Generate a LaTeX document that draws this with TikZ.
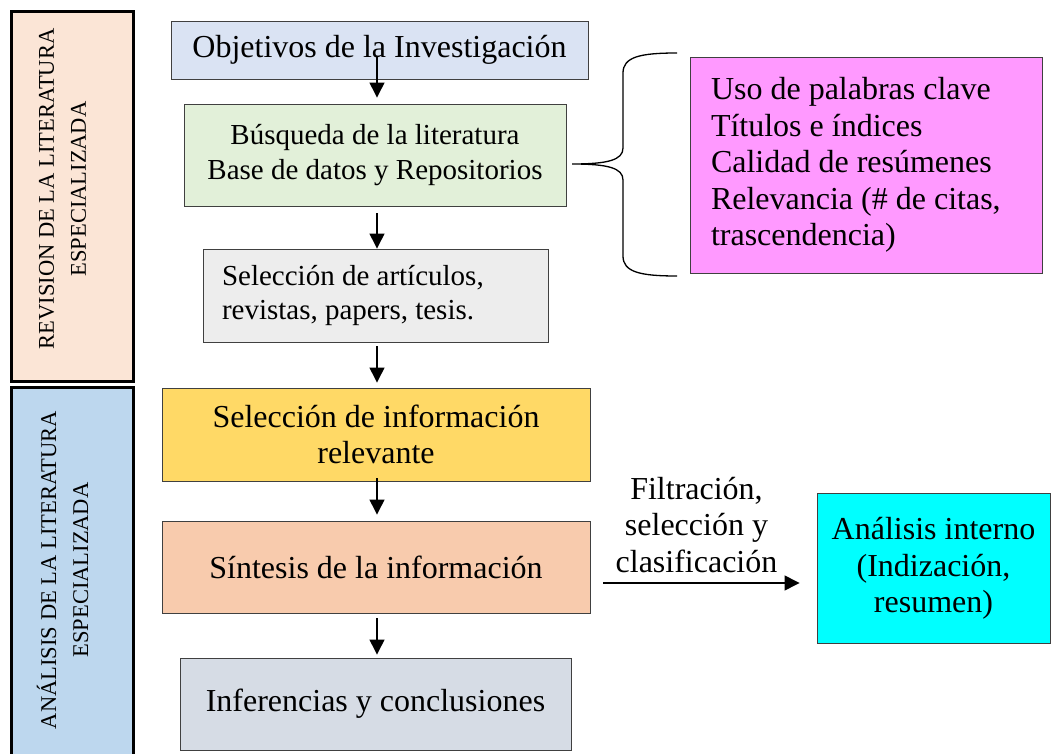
\documentclass[tikz,border=0pt]{standalone}
\usepackage{fontspec}
\setmainfont{Liberation Serif}
\usetikzlibrary{calc}
\usetikzlibrary{arrows.meta}
\definecolor{objblue}{HTML}{DAE3F3}
\definecolor{busgreen}{HTML}{E2F0D9}
\definecolor{artgray}{HTML}{EDEDED}
\definecolor{relgold}{HTML}{FFD966}
\definecolor{sinpeach}{HTML}{F8CBAD}
\definecolor{infslate}{HTML}{D6DCE5}
\definecolor{critpink}{HTML}{FF99FF}
\definecolor{anacyan}{HTML}{00FFFF}
\definecolor{revband}{HTML}{FBE5D6}
\definecolor{anaband}{HTML}{BDD7EE}
\newcommand*{\colx   }{377}
\newcommand*{\bigtxt }{\fontsize{32}{36.5}\selectfont}
\newcommand*{\midtxt }{\fontsize{29}{34.5}\selectfont}
\newcommand*{\sidetxt}{\fontsize{22.5}{32}\selectfont}

\begin{document}
\begin{tikzpicture}[x=1pt, y=-1pt,
        box/.style={rectangle, draw=black!75, line width=0.9pt, inner sep=0pt, align=center, font=\bigtxt},
        band/.style={rectangle, draw=black, line width=3pt, rotate=90},
        bandtext/.style={rotate=90, align=center, font=\sidetxt, inner sep=0pt},
        flow/.style={line width=1.3pt, -{Triangle[width=15pt, length=15pt]}}]
    \useasboundingbox (0,0) rectangle (1053,754);
        % bands on the left
        \node [band, fill=revband, minimum width=369pt, minimum height=122pt] (rev) at (72,196.5) {};
        \node [band, fill=anaband, minimum width=370pt, minimum height=122pt] (anl) at (72,572) {};
        \node [bandtext] (revtxt) at (62.5,189) {REVISION DE LA LITERATURA\\ESPECIALIZADA};
        \node [bandtext] (anltxt) at (62.5,570) {ANÁLISIS DE LA LITERATURA\\ESPECIALIZADA};
        % main column
        \node [box, fill=objblue,  minimum width=417pt, minimum height=58pt]  (obj) at (379.5,50)  {Objetivos de la Investigación};
        \node [box, fill=busgreen, minimum width=382pt, minimum height=102pt, font=\midtxt] (bus) at (375,155) {Búsqueda de la literatura\\Base de datos y Repositorios};
        \node [box, fill=artgray,  minimum width=345pt, minimum height=93pt, font=\midtxt, align=flush left, inner xsep=19pt, text width=307pt] (art) at (375.5,295.5) {Selección de artículos,\\revistas, papers, tesis.};
        \node [box, fill=relgold,  minimum width=428pt, minimum height=93pt]  (rel) at (376,434.5) {Selección de información\\relevante};
        \node [box, fill=sinpeach, minimum width=428pt, minimum height=92pt]  (sin) at (376,567)   {Síntesis de la información};
        \node [box, fill=infslate, minimum width=391pt, minimum height=92pt]  (inf) at (375.5,704) {Inferencias y conclusiones};
        % right side
        \node [box, fill=critpink, minimum width=352pt, minimum height=216pt, align=flush left, inner xsep=21pt, text width=310pt] (crit) at (866,165) {Uso de palabras clave\\Títulos e índices\\Calidad de resúmenes\\Relevancia (\# de citas,\\trascendencia)};
        \node [box, fill=anacyan,  minimum width=233pt, minimum height=150pt, text depth=6pt] (ana) at (933.5,568) {Análisis interno\\(Indización,\\resumen)};
        % arrows
        \coordinate (axis) at (\colx,0);
        \draw [flow, shorten <=-22pt, shorten >=6pt] (axis |- obj.south) -- (axis |- bus.north);
        \draw [flow, shorten <=7pt]                   (axis |- bus.south) -- (axis |- art.north);
        \draw [flow, shorten <=4pt, shorten >=5pt]    (axis |- art.south) -- (axis |- rel.north);
        \draw [flow, shorten <=-3pt, shorten >=6pt]   (axis |- rel.south) -- (axis |- sin.north);
        \draw [flow, shorten <=5pt, shorten >=3pt]    (axis |- sin.south) -- (axis |- inf.north);
        \coordinate (fl) at ([yshift=-16pt]sin.east);
        \draw [flow, shorten <=13pt, shorten >=17pt] (fl) -- (fl -| ana.west)
            node [midway, above=10pt, xshift=-7pt, font=\bigtxt, align=center, inner sep=0pt] (filt) {Filtración,\\selección y\\clasificación};
        % brace
        \draw [line width=1.3pt] (677,53) .. controls (640,53) and (623,57) .. (623,73) -- (623,148)
            .. controls (623,160) and (608,164) .. (572,164)
            .. controls (608,164) and (623,168) .. (623,180) -- (623,256)
            .. controls (623,272) and (640,276) .. (677,276);
    \end{tikzpicture}
\end{document}
